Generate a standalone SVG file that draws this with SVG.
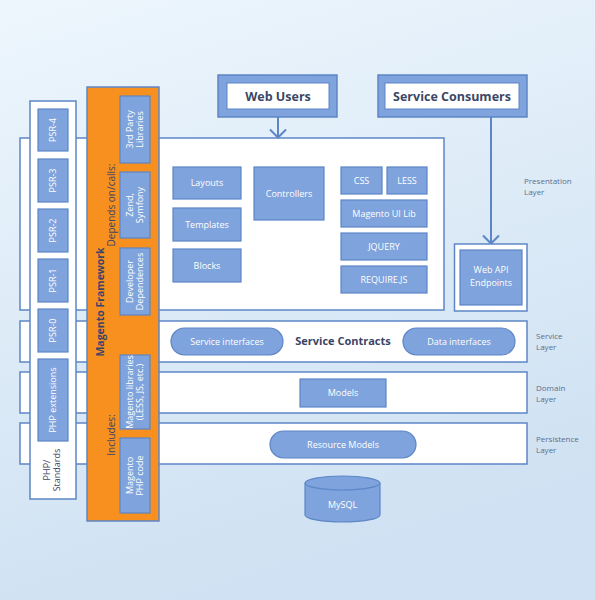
<svg xmlns="http://www.w3.org/2000/svg" width="595" height="600" viewBox="0 0 595 600">
<defs>
<linearGradient id="bg" x1="0" y1="0" x2="0.3" y2="1">
<stop offset="0" stop-color="#edf6fd"/>
<stop offset="1" stop-color="#cfe1f2"/>
</linearGradient>
<style>
.band{fill:#ffffff;stroke:#5d86c6;stroke-width:1.5}
.box{fill:#7fa3dc;stroke:#5d86c6;stroke-width:1.2}
.bt{fill:#ffffff;font-family:"Open Sans","Liberation Sans",sans-serif;font-size:9px;text-anchor:middle}
.lbl{fill:#5b6f8e;font-family:"Open Sans","Liberation Sans",sans-serif;font-size:8px}
.head{fill:#3b4766;font-family:"Open Sans","Liberation Sans",sans-serif;font-size:12.5px;font-weight:bold;text-anchor:middle}
.dark{fill:#3b4466;font-family:"Open Sans","Liberation Sans",sans-serif;text-anchor:middle}
.conn{fill:none;stroke:#5d86c6;stroke-width:2}
</style>
</defs>
<rect x="0" y="0" width="595" height="600" fill="url(#bg)"/>

<g id="layers">
<rect id="presentation-band" class="band" x="20" y="138" width="424" height="172"/>
<rect id="service-band" class="band" x="20" y="321" width="507" height="41"/>
<rect id="domain-band" class="band" x="20" y="372" width="507" height="41"/>
<rect id="persistence-band" class="band" x="20" y="423" width="507" height="41"/>
</g>

<g id="layer-labels">
<text class="lbl" x="524" y="184">Presentation</text>
<text class="lbl" x="524" y="195">Layer</text>
<text class="lbl" x="536" y="339">Service</text>
<text class="lbl" x="536" y="350">Layer</text>
<text class="lbl" x="536" y="391">Domain</text>
<text class="lbl" x="536" y="402">Layer</text>
<text class="lbl" x="536" y="442">Persistence</text>
<text class="lbl" x="536" y="453">Layer</text>
</g>

<g id="web-users">
<rect x="218" y="75" width="119" height="42" fill="#7fa3dc" stroke="#5d86c6" stroke-width="1.5"/>
<rect x="227" y="83" width="102" height="26" fill="#ffffff" stroke="#5d86c6" stroke-width="1"/>
<text class="head" x="278" y="100.5">Web Users</text>
</g>

<g id="service-consumers">
<rect x="378" y="75" width="149" height="42" fill="#7fa3dc" stroke="#5d86c6" stroke-width="1.5"/>
<rect x="385" y="83" width="134" height="26" fill="#ffffff" stroke="#5d86c6" stroke-width="1"/>
<text class="head" x="452" y="100.5">Service Consumers</text>
</g>

<g id="connectors">
<path class="conn" d="M278 117 V137.5 M270 129.5 L278 137.5 L286 129.5"/>
<path class="conn" d="M491 117 V243.5 M483 235.5 L491 243.5 L499 235.5"/>
</g>

<g id="layouts"><rect class="box" x="173" y="167" width="68" height="32"/><text class="bt" x="207" y="186">Layouts</text></g>
<g id="templates"><rect class="box" x="173" y="208" width="68" height="33"/><text class="bt" x="207" y="227.5">Templates</text></g>
<g id="blocks"><rect class="box" x="173" y="249" width="68" height="33"/><text class="bt" x="207" y="268.5">Blocks</text></g>
<g id="controllers"><rect class="box" x="254" y="167" width="70" height="53"/><text class="bt" x="289" y="196.5">Controllers</text></g>
<g id="css"><rect class="box" x="341" y="167" width="41" height="27"/><text class="bt" x="361.5" y="183.5">CSS</text></g>
<g id="less"><rect class="box" x="387" y="167" width="40" height="27"/><text class="bt" x="407" y="183.5">LESS</text></g>
<g id="magento-ui-lib"><rect class="box" x="341" y="200" width="86" height="27"/><text class="bt" x="384" y="216.5">Magento UI Lib</text></g>
<g id="jquery"><rect class="box" x="341" y="233" width="86" height="27"/><text class="bt" x="384" y="249.5">JQUERY</text></g>
<g id="requirejs"><rect class="box" x="341" y="266" width="86" height="27"/><text class="bt" x="384" y="282.5">REQUIRE.JS</text></g>

<g id="web-api">
<rect class="band" x="454.5" y="244" width="72.5" height="67"/>
<rect class="box" x="460" y="250" width="62" height="55"/>
<text class="bt" x="491" y="273">Web API</text>
<text class="bt" x="491" y="286">Endpoints</text>
</g>

<g id="service-interfaces"><rect class="box" x="171" y="328" width="112" height="27" rx="13.5"/><text class="bt" x="227" y="344.5">Service interfaces</text></g>
<g id="service-contracts"><text class="dark" x="343" y="345" font-size="11" font-weight="bold">Service Contracts</text></g>
<g id="data-interfaces"><rect class="box" x="403" y="328" width="112" height="27" rx="13.5"/><text class="bt" x="459" y="344.5">Data interfaces</text></g>
<g id="models"><rect class="box" x="300" y="379" width="86" height="28"/><text class="bt" x="343" y="396">Models</text></g>
<g id="resource-models"><rect class="box" x="270" y="431" width="146" height="27" rx="13.5"/><text class="bt" x="343" y="447.5">Resource Models</text></g>

<g id="mysql">
<path d="M305 483 V515 A37.5 7 0 0 0 380 515 V483" fill="#7fa3dc" stroke="#5d86c6" stroke-width="1.2"/>
<ellipse cx="342.5" cy="483" rx="37.5" ry="7" fill="#7fa3dc" stroke="#5d86c6" stroke-width="1.2"/>
<text class="bt" x="342.5" y="508">MySQL</text>
</g>

<g id="php-standards">
<rect class="band" x="30" y="101" width="46" height="398"/>
<text class="dark" transform="translate(50,470) rotate(-90)" font-size="9"><tspan x="0" y="0">PHP/</tspan><tspan x="0" y="10">Standards</tspan></text>
</g>
<g id="psr-4"><rect class="box" x="38" y="109" width="30" height="42"/><text class="bt" transform="translate(56,130) rotate(-90)">PSR-4</text></g>
<g id="psr-3"><rect class="box" x="38" y="159" width="30" height="43"/><text class="bt" transform="translate(56,180.5) rotate(-90)">PSR-3</text></g>
<g id="psr-2"><rect class="box" x="38" y="209" width="30" height="43"/><text class="bt" transform="translate(56,230.5) rotate(-90)">PSR-2</text></g>
<g id="psr-1"><rect class="box" x="38" y="259" width="30" height="43"/><text class="bt" transform="translate(56,280.5) rotate(-90)">PSR-1</text></g>
<g id="psr-0"><rect class="box" x="38" y="309" width="30" height="43"/><text class="bt" transform="translate(56,330.5) rotate(-90)">PSR-0</text></g>
<g id="php-extensions"><rect class="box" x="38" y="359" width="30" height="82"/><text class="bt" transform="translate(56,400) rotate(-90)">PHP extensions</text></g>

<g id="magento-framework">
<rect x="87" y="87" width="72" height="434" fill="#f7901e" stroke="#5d86c6" stroke-width="1.5"/>
<text class="dark" transform="translate(104,302) rotate(-90)" font-size="10.5" font-weight="bold">Magento Framework</text>
<text class="dark" transform="translate(115,205) rotate(-90)" font-size="10">Depends on/calls:</text>
<text class="dark" transform="translate(115,435) rotate(-90)" font-size="10">Includes:</text>
</g>
<g id="third-party"><rect class="box" x="120" y="96" width="30" height="67"/><text class="bt" transform="translate(135,129.5) rotate(-90)" font-size="8"><tspan x="0" y="-2">3rd Party</tspan><tspan x="0" y="8">Libraries</tspan></text></g>
<g id="zend-symfony"><rect class="box" x="120" y="172" width="30" height="66"/><text class="bt" transform="translate(135,205) rotate(-90)" font-size="8"><tspan x="0" y="-2">Zend,</tspan><tspan x="0" y="8">Symfony</tspan></text></g>
<g id="developer-dependences"><rect class="box" x="120" y="248" width="30" height="67"/><text class="bt" transform="translate(135,281.5) rotate(-90)" font-size="8"><tspan x="0" y="-2">Developer</tspan><tspan x="0" y="8">Dependences</tspan></text></g>
<g id="magento-libraries"><rect class="box" x="120" y="355" width="30" height="74"/><text class="bt" transform="translate(135,392) rotate(-90)" font-size="8"><tspan x="0" y="-2">Magento libraries</tspan><tspan x="0" y="8">(LESS, JS, etc.)</tspan></text></g>
<g id="magento-php-code"><rect class="box" x="120" y="438" width="30" height="75"/><text class="bt" transform="translate(135,475.5) rotate(-90)" font-size="8"><tspan x="0" y="-2">Magento</tspan><tspan x="0" y="8">PHP code</tspan></text></g>
</svg>
